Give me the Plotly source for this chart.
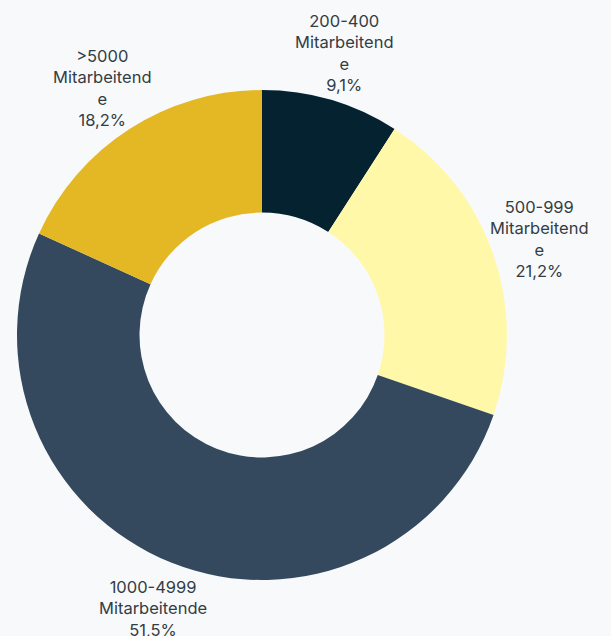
import math
import plotly.graph_objects as go

# Company size groups and their share of respondents (%)
categories = ["200-400", "500-999", "1000-4999", ">5000"]
label_lines = [
    ["200-400", "Mitarbeitend", "e"],
    ["500-999", "Mitarbeitend", "e"],
    ["1000-4999", "Mitarbeitende"],
    [">5000", "Mitarbeitend", "e"],
]
shares = [9.1, 21.2, 51.5, 18.2]
colors = ["#04222f", "#fff8a8", "#34495e", "#e3b824"]

W, H = 611, 636
cx, cy, r = 262, 335, 245  # pixel centre and outer radius of the ring
label_radius = 1.2 * r      # labels sit centred on each slice's mid-ray

fig = go.Figure(
    go.Pie(
        labels=categories,
        values=shares,
        textinfo="none",
        hole=0.5,
        sort=False,
        direction="clockwise",
        rotation=0,
        marker=dict(colors=colors, line=dict(width=0)),
        showlegend=False,
        hoverinfo="label+percent",
        domain=dict(
            x=[(cx - r) / W, (cx + r) / W],
            y=[(H - cy - r) / H, (H - cy + r) / H],
        ),
    )
)

# Outside labels: centred on the mid-angle of each slice (clockwise from 12 o'clock)
total = sum(shares)
cum = 0.0
for lines, v in zip(label_lines, shares):
    mid = (cum + v / 2) / total * 2 * math.pi
    cum += v
    px = cx + label_radius * math.sin(mid)
    py = cy - label_radius * math.cos(mid)
    pct = f"{v:.1f}".replace(".", ",") + "%"
    fig.add_annotation(
        x=px / W,
        y=(H - py) / H,
        xref="paper",
        yref="paper",
        text="<br>".join(lines + [pct]),
        showarrow=False,
        xanchor="center",
        yanchor="middle",
        align="center",
        font=dict(family="Inter", size=16.5, color="#333d45"),
    )

fig.update_layout(
    width=W,
    height=H,
    margin=dict(l=0, r=0, t=0, b=0),
    paper_bgcolor="#f8f9fa",
    plot_bgcolor="#f8f9fa",
)

fig.write_html("out.html")
